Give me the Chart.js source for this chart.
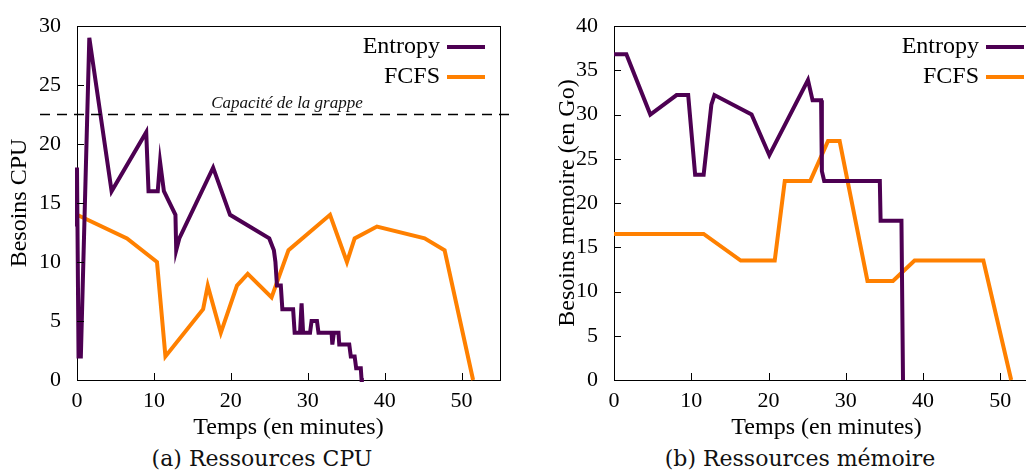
<!DOCTYPE html>
<html>
<head>
<meta charset="utf-8">
<script src="https://cdn.jsdelivr.net/npm/chart.js@4"></script>
<style>
  body { margin: 0; width: 1026px; height: 473px; overflow: hidden; background: #fff; position: relative; }
  canvas { position: absolute; top: 0; }
  #cpu { left: 0; }
  #mem { left: 548px; }
  .cap { position: absolute; top: 446px; font-family: "DejaVu Serif", serif; font-size: 22px; color: #111; white-space: nowrap; transform: translateX(-50%); }
</style>
</head>
<body>
<canvas id="cpu" width="520" height="444"></canvas>
<canvas id="mem" width="500" height="444"></canvas>
<div class="cap" style="left:262px">(a) Ressources CPU</div>
<div class="cap" style="left:800px">(b) Ressources mémoire</div>
<script>
// temps (minutes) / valeurs
var cpuEntropyT = [0, 0, 0.2, 0.5, 1.6, 4.5, 9, 9.3, 10.5, 10.8, 11.3, 12.8, 12.9, 13.3, 17.7, 19.9, 25, 25.6, 25.8, 26, 26.5, 26.7, 28.1, 28.3, 29, 29.2, 29.4, 30.3, 30.5, 31.2, 31.4, 33.1, 33.2, 33.4, 34, 34.1, 35.4, 35.6, 36.1, 36.3, 36.9, 37, 37.3]
var cpuEntropyV = [13, 18, 2, 2, 29, 16, 21, 16, 16, 18.5, 16, 14, 11, 12, 18, 14, 12, 11, 10, 8, 8, 6, 6, 4, 4, 6.5, 4, 4, 5, 5, 4, 4, 3, 4, 4, 3, 3, 2, 2, 1, 1, 0, 0]
var cpuFcfsT = [0, 6.5, 10.4, 11.5, 16.4, 17, 18.7, 20.8, 22.2, 25.3, 27.5, 32.9, 35.1, 36.1, 39, 45.2, 47.8, 51.5]
var cpuFcfsV = [14, 12, 10, 2, 6, 8, 4, 8, 9, 7, 11, 14, 10, 12, 13, 12, 11, 0]

var memEntropyT = [0, 1.6, 4.7, 8.1, 9.6, 10.5, 11.6, 12.6, 13, 17.8, 20.1, 25.1, 25.7, 26.8, 26.9, 27.2, 34.4, 34.5, 37.2, 37.4]
var memEntropyV = [36.8, 36.8, 30, 32.2, 32.2, 23.2, 23.2, 31.1, 32.2, 30, 25.4, 33.9, 31.6, 31.6, 23.6, 22.5, 22.5, 18, 18, 0]
var memFcfsT = [0, 11.6, 16.4, 20.8, 22.1, 25.4, 27.7, 29.2, 32.8, 36.1, 38.9, 47.8, 51.4]
var memFcfsV = [16.5, 16.5, 13.5, 13.5, 22.5, 22.5, 27, 27, 11.2, 11.2, 13.5, 13.5, 0]

var capacite = 22.5
var seriesNames = ['Entropy', 'FCFS']
var seriesColors = ['#4d0052', '#ff8000']

var FONT = 'Liberation Serif'

function pts(t, v) { return t.map((x, i) => ({ x: x, y: v[i] })) }

//petits traits vers l'interieur + legende + cadre
var decor = {
    id: 'decor',
    afterDraw(chart, args, o) {
        var c = chart.ctx, a = chart.chartArea
        var xs = chart.scales.x, ys = chart.scales.y
        c.save()
        c.strokeStyle = '#000'
        c.lineWidth = 1
        xs.ticks.forEach(t => {
            var px = Math.round(xs.getPixelForValue(t.value)) + 0.5
            c.beginPath(); c.moveTo(px, a.bottom); c.lineTo(px, a.bottom - 7); c.stroke()
        })
        ys.ticks.forEach(t => {
            var py = Math.round(ys.getPixelForValue(t.value)) + 0.5
            c.beginPath(); c.moveTo(a.left, py); c.lineTo(a.left + 7, py); c.stroke()
        })
        c.beginPath()
        c.moveTo(a.left, a.top + 0.5); c.lineTo(o.box ? a.right : chart.width, a.top + 0.5)
        if (o.box) { c.moveTo(a.right + 0.5, a.top); c.lineTo(a.right + 0.5, a.bottom) }
        c.stroke()

        if (o.cap) {
            var py = ys.getPixelForValue(capacite)
            c.setLineDash([10, 7])
            c.lineWidth = 1.3
            c.beginPath(); c.moveTo(a.left - 37, py); c.lineTo(a.right + 15, py); c.stroke()
            c.setLineDash([])
            c.fillStyle = '#111'
            c.font = 'italic 17px ' + FONT
            c.textAlign = 'center'
            c.textBaseline = 'alphabetic'
            c.fillText('Capacité de la grappe', a.left + 210, py - 7)
        }

        c.font = '24px ' + FONT
        c.textAlign = 'right'
        c.textBaseline = 'middle'
        seriesNames.forEach((n, i) => {
            var y = a.top + 21 + i * 30
            c.fillStyle = '#000'
            c.fillText(n, a.right - 60, y)
            c.strokeStyle = seriesColors[i]
            c.lineWidth = 4
            c.beginPath(); c.moveTo(a.right - 53, y); c.lineTo(a.right - 15, y); c.stroke()
        })
        c.restore()
    }
}

function makeChart(id, e, f, ymax, ytitle, yw, padR, box, cap) {
    return new Chart(document.getElementById(id), {
        type: 'line',
        data: {
            datasets: [
                { label: seriesNames[0], data: e, borderColor: seriesColors[0], borderWidth: 4, pointRadius: 0, tension: 0, clip: false },
                { label: seriesNames[1], data: f, borderColor: seriesColors[1], borderWidth: 4, pointRadius: 0, tension: 0, clip: false }
            ]
        },
        options: {
            responsive: false,
            animation: false,
            layout: { padding: { top: 26, right: padR, left: 0, bottom: 0 } },
            plugins: { legend: { display: false }, tooltip: { enabled: false }, decor: { box: box, cap: cap } },
            scales: {
                x: {
                    type: 'linear', min: 0, max: 55,
                    grid: { display: false },
                    border: { display: true, color: '#000', width: 1 },
                    afterBuildTicks: s => { s.ticks = s.ticks.filter(t => t.value % 10 == 0) },
                    afterFit: s => { s.height = 64 },
                    ticks: { stepSize: 10, color: '#000', padding: 0, maxRotation: 0, font: { family: FONT, size: 22 } },
                    title: { display: true, text: 'Temps (en minutes)', color: '#000', padding: { top: 4, bottom: 2 }, font: { family: FONT, size: 24 } }
                },
                y: {
                    min: 0, max: ymax,
                    grid: { display: false },
                    border: { display: true, color: '#000', width: 1 },
                    afterFit: s => { s.width = yw },
                    ticks: { stepSize: 5, color: '#000', padding: 8, font: { family: FONT, size: 22 } },
                    title: { display: true, text: ytitle, color: '#000', padding: { bottom: 0, top: 5 }, font: { family: FONT, size: 24 } }
                }
            }
        },
        plugins: [decor]
    })
}

makeChart('cpu', pts(cpuEntropyT, cpuEntropyV), pts(cpuFcfsT, cpuFcfsV), 30, 'Besoins CPU', 77, 20, true, true)
makeChart('mem', pts(memEntropyT, memEntropyV), pts(memFcfsT, memFcfsV), 40, 'Besoins memoire (en Go)', 66, 9, false, false)
</script>
</body>
</html>
